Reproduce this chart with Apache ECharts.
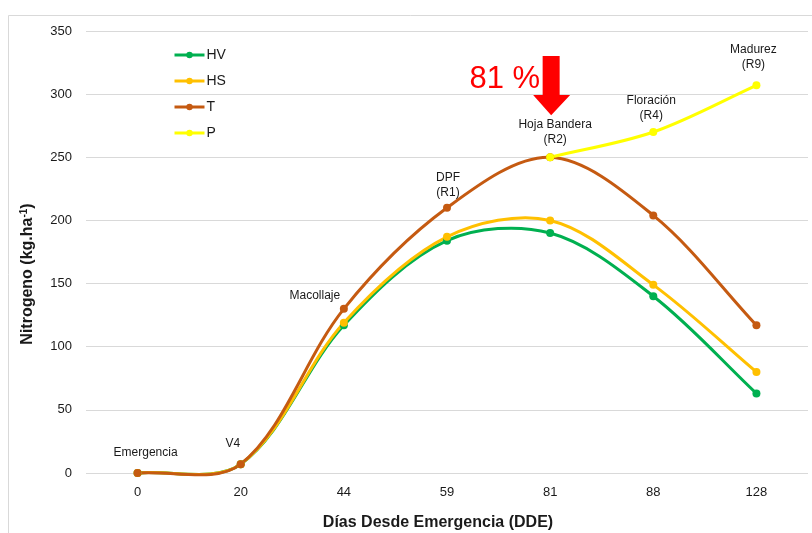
<!DOCTYPE html>
<html>
<head>
<meta charset="utf-8">
<script src="https://cdn.jsdelivr.net/npm/echarts@6/dist/echarts.min.js"></script>
<style>
  html, body { margin: 0; padding: 0; background: #fff; }
  #chart { width: 812px; height: 533px; }
</style>
</head>
<body>
<div id="chart"></div>
<script>
// Days after emergence (category axis)
const days = ['0', '20', '44', '59', '81', '88', '128'];

// Nitrogen uptake (kg/ha) per treatment
const hv = [0, 7, 117, 184, 190, 140, 63];
const hs = [0, 7, 119, 187, 200, 149, 80];
const t  = [0, 7, 130, 210, 250, 204, 117];
const p  = [null, null, null, null, 250, 270, 307];

// Growth stage labels
const stagesT = ['Emergencia', 'V4', 'Macollaje', 'DPF\n(R1)', '', '', ''];
const stagesP = ['', '', '', '', 'Hoja Bandera\n(R2)', 'Floración\n(R4)', 'Madurez\n(R9)'];
const stageOffsetsT = [[8, -9], [-8, -9], [-29, -2], [1, -4], [0, 0], [0, 0], [0, 0]];
const stageOffsetsP = [[0, 0], [0, 0], [0, 0], [0, 0], [5, -6], [-2, -5], [-3, -9]];

const pctText = '81 %';
const pctIndex = 4;

const FONT = 'Liberation Sans, Arial, sans-serif';
const COLORS = { HV: '#00B050', HS: '#FFC000', T: '#C55A11', P: '#FFFF00' };

function withLabels(values, names, offsets) {
  return values.map((v, i) => {
    if (!names[i]) return v;
    return {
      value: v,
      label: {
        show: true,
        position: 'top',
        distance: 0,
        offset: offsets[i],
        formatter: names[i],
        color: '#1a1a1a',
        fontSize: 12,
        lineHeight: 15,
        fontFamily: FONT,
        align: 'center'
      }
    };
  });
}

// Markers (and stage labels) for a treatment
function markerSeries(name, data, z) {
  return {
    name: name,
    type: 'line',
    data: data,
    symbol: 'circle',
    symbolSize: 8,
    showSymbol: true,
    z: z + 10,
    lineStyle: { opacity: 0, width: 0 },
    itemStyle: { color: COLORS[name] },
    emphasis: { disabled: true }
  };
}

function dist(a, b) {
  return Math.hypot(b[0] - a[0], b[1] - a[1]);
}

// Smoothed curve drawn as cubic Bezier segments, tangents weighted by segment length
function curveSeries(name, values, z) {
  return {
    name: name,
    type: 'custom',
    z: z,
    clip: false,
    silent: true,
    data: values.map((v, i) => [i, v]),
    renderItem: function (params, api) {
      const i = params.dataIndex;
      const n = values.length;
      if (i >= n - 1 || values[i] == null || values[i + 1] == null) return null;
      const pt = j => api.coord([j, values[j]]);
      const p1 = pt(i);
      const p2 = pt(i + 1);
      const p0 = (i > 0 && values[i - 1] != null) ? pt(i - 1) : p1;
      const p3 = (i + 2 < n && values[i + 2] != null) ? pt(i + 2) : p2;
      const d01 = dist(p0, p1), d12 = dist(p1, p2), d23 = dist(p2, p3);
      const f1 = d12 / (d01 + d12) / 3;
      const f2 = d12 / (d12 + d23) / 3;
      return {
        type: 'bezierCurve',
        shape: {
          x1: p1[0], y1: p1[1],
          cpx1: p1[0] + (p2[0] - p0[0]) * f1, cpy1: p1[1] + (p2[1] - p0[1]) * f1,
          cpx2: p2[0] - (p3[0] - p1[0]) * f2, cpy2: p2[1] - (p3[1] - p1[1]) * f2,
          x2: p2[0], y2: p2[1]
        },
        style: { stroke: COLORS[name], lineWidth: 3, fill: null, lineCap: 'round' }
      };
    }
  };
}

const chart = echarts.init(document.getElementById('chart'), null, { renderer: 'canvas' });

const option = {
  animation: false,
  backgroundColor: '#ffffff',
  textStyle: { fontFamily: FONT },
  grid: { left: 86, right: 4, top: 31, bottom: 60, containLabel: false, outerBoundsMode: 'none' },
  legend: {
    orient: 'vertical',
    left: 168,
    top: 43,
    itemWidth: 30,
    itemHeight: 8,
    itemGap: 12,
    lineStyle: { width: 3, opacity: 1 },
    textStyle: { fontSize: 14, color: '#1a1a1a', fontFamily: FONT, padding: [0, 0, 0, -3] },
    data: ['HV', 'HS', 'T', 'P']
  },
  xAxis: {
    type: 'category',
    data: days,
    boundaryGap: true,
    axisLine: { show: false },
    axisTick: { show: false },
    axisLabel: { color: '#1a1a1a', fontSize: 13, margin: 13, fontFamily: FONT },
    name: 'Días Desde Emergencia (DDE)',
    nameLocation: 'middle',
    nameGap: 42,
    nameTextStyle: { fontWeight: 'bold', fontSize: 16, color: '#1a1a1a', fontFamily: FONT, padding: [0, 18, 0, 0] }
  },
  yAxis: {
    type: 'value',
    min: 0,
    max: 350,
    interval: 50,
    axisLine: { show: false },
    axisTick: { show: false },
    splitLine: { lineStyle: { color: '#d9d9d9', width: 1 } },
    axisLabel: { color: '#1a1a1a', fontSize: 13, margin: 14, fontFamily: FONT },
    name: '{b|Nitrogeno (kg.ha}{s|-1}{b|)}',
    nameLocation: 'middle',
    nameGap: 50,
    nameTextStyle: {
      padding: [0, 44, 0, 0],
      rich: {
        b: { fontWeight: 'bold', fontSize: 16, color: '#1a1a1a', fontFamily: FONT },
        s: { fontWeight: 'bold', fontSize: 10, color: '#1a1a1a', fontFamily: FONT, verticalAlign: 'top', padding: [0, 0, 7, 0] }
      }
    }
  },
  series: [
    markerSeries('HV', hv, 2),
    markerSeries('HS', hs, 3),
    markerSeries('T', withLabels(t, stagesT, stageOffsetsT), 4),
    markerSeries('P', withLabels(p, stagesP, stageOffsetsP), 5),
    curveSeries('HV', hv, 2),
    curveSeries('HS', hs, 3),
    curveSeries('T', t, 4),
    curveSeries('P', p, 5)
  ]
};

chart.setOption(option);

// Outer frame, red arrow and percentage note placed relative to the 81-day point
const anchor = chart.convertToPixel({ gridIndex: 0 }, [pctIndex, 250]);
const ax = anchor[0] + 1;
chart.setOption({
  graphic: [
    {
      type: 'rect',
      shape: { x: 8.5, y: 15.5, width: 830, height: 540 },
      style: { fill: 'none', stroke: '#d9d9d9', lineWidth: 1 },
      silent: true,
      z: -1
    },
    {
      type: 'polygon',
      shape: {
        points: [
          [ax - 8.5, 56], [ax + 8.5, 56], [ax + 8.5, 95], [ax + 19, 95],
          [ax, anchor[1] - 42], [ax - 18, 95], [ax - 8.5, 95]
        ]
      },
      style: { fill: '#FF0000' },
      silent: true,
      z: 10
    },
    {
      type: 'text',
      x: ax - 11,
      y: 79,
      style: {
        text: pctText,
        fill: '#FF0000',
        fontSize: 31,
        fontFamily: FONT,
        align: 'right',
        verticalAlign: 'middle'
      },
      silent: true,
      z: 10
    }
  ]
});
</script>
</body>
</html>
